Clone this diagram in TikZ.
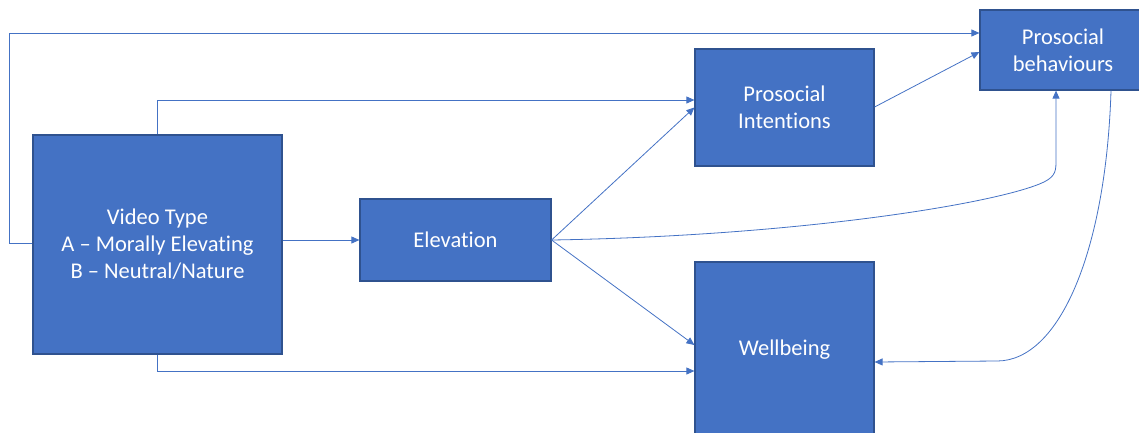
\documentclass[tikz,border=0pt]{standalone}
\usepackage{fontspec}
\setmainfont[RawFeature={-liga}]{Carlito}
\usetikzlibrary{arrows.meta}
\definecolor{boxfill}{HTML}{4472C4}
\definecolor{boxline}{HTML}{2F528F}
\definecolor{conncol}{HTML}{4472C4}
\begin{document}
\begin{tikzpicture}[x=1pt,y=-1pt,
  box/.style={draw=boxline,line width=1.2pt,fill=boxfill,text=white,align=center,
    font=\fontsize{22.5}{27}\selectfont,inner sep=0pt},
  conn/.style={draw=conncol,line width=0.8pt,-{Triangle[length=8pt,width=7pt]}}]
\useasboundingbox (0,0) rectangle (1139,432);
\clip (0,0) rectangle (1139,432);
\node[box,minimum width=249pt,minimum height=219pt] (vt) at (157.5,244.5)
  {Video Type\\A – Morally Elevating\\B – Neutral/Nature};
\node[box,minimum width=191pt,minimum height=82pt] (el) at (455.5,240) {Elevation};
\node[box,minimum width=179pt,minimum height=117pt] (pi) at (784.5,107.5) {Prosocial\\Intentions};
\node[box,minimum width=166pt,minimum height=80pt] (pb) at (1063,50) {Prosocial\\behaviours};
\node[box,minimum width=179pt,minimum height=176pt] (wb) at (784.5,350) {Wellbeing};
% video type connectors
\draw[conn] ([yshift=1pt]vt.west) -- ++(-23,0) |- ([yshift=17pt]pb.west);
\draw[conn] (vt.north) |- ([yshift=7.5pt]pi.west);
\draw[conn] (vt.east |- el.west) -- (el.west);
\draw[conn] (vt.south) |- ([yshift=-21pt]wb.west);
% elevation connectors
\draw[conn] (el.east) -- (pi.west);
\draw[conn] (el.east) -- ([yshift=5pt]wb.west);
\draw[conn] (el.east) .. controls (800,236) and (1000,203) .. (1044,182)
  .. controls (1056,176) and (1056,170) .. (1056,160) -- ([xshift=-7pt]pb.south);
% intentions to behaviours
\draw[conn] ([yshift=0.5pt]pi.east) -- ([yshift=-2pt]pb.west);
% behaviours to wellbeing
\draw[conn] ([xshift=48pt]pb.south) .. controls (1106,250) and (1060,361) .. (997,361) -- ([yshift=-12pt]wb.east);
\end{tikzpicture}
\end{document}
